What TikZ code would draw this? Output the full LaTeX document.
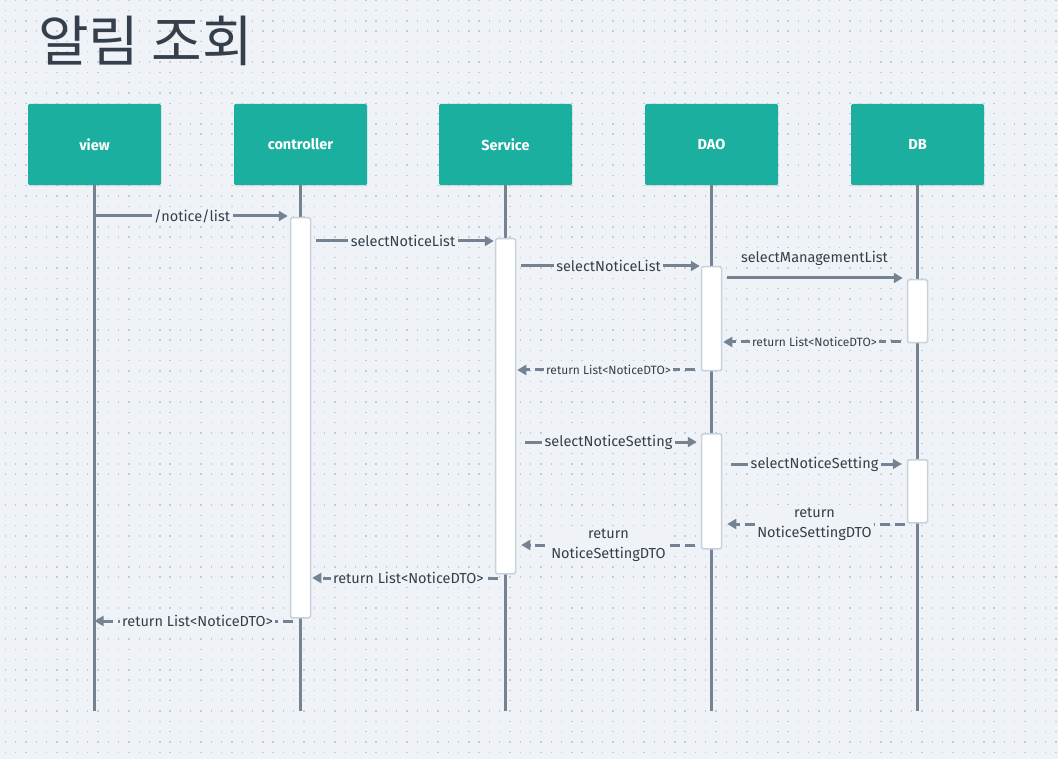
\documentclass[tikz,border=0pt]{standalone}
\usepackage{fontspec}
\setmainfont{Fira Sans}
\newfontfamily\krfont{Noto Sans CJK KR}
\usetikzlibrary{arrows.meta,shadows}
\definecolor{bgcol}{HTML}{EFF3F7}
\definecolor{dotcol}{HTML}{C3CBD5}
\definecolor{actorcol}{HTML}{1BAF9F}
\definecolor{linecol}{HTML}{748291}
\definecolor{txtcol}{HTML}{343F4B}
\definecolor{boxedge}{HTML}{C8D2DC}
\tikzset{
    actor/.style={fill=actorcol,minimum width=133pt,minimum height=81pt,rounded corners=1.5pt,
        text=white,font=\bfseries\fontsize{14.5}{16}\selectfont,
        drop shadow={shadow xshift=0pt,shadow yshift=-1.5pt,opacity=0.2}},
    lifeline/.style={linecol,line width=3pt},
    activation/.style={draw=boxedge,fill=white,line width=1.5pt,rounded corners=1.5pt,
        minimum width=20pt,inner sep=0pt,anchor=north},
    call/.style={linecol,line width=3pt,-{Triangle[length=9pt,width=10pt]}},
    reply/.style={call,dash pattern=on 10pt off 5pt},
    msg/.style={fill=bgcol,text=txtcol,font=\fontsize{14.5}{20}\selectfont,inner sep=2.5pt,align=center},
    smallmsg/.style={msg,font=\fontsize{12}{14}\selectfont}
}

\begin{document}
\begin{tikzpicture}[x=1pt,y=-1pt]
\fill[bgcol](0,0)rectangle(1058,759);
\useasboundingbox(0,0)rectangle(1058,759);
\foreach \i in {0,...,73}
    \draw[dotcol,line width=1.4pt,dash pattern=on 1.4pt off 8.9pt](4.6,{0.3+10.3*\i})--(1058,{0.3+10.3*\i});

\node[anchor=west,text=txtcol,font=\krfont\fontsize{55}{66}\selectfont,inner sep=0pt] (title) at (38,41) {알림 조회};

\foreach \n/\x/\t in {view/94.5/view,ctrl/300.5/controller,svc/505.5/Service,dao/711.5/DAO,db/917.5/DB}
    {\node[actor] (\n) at (\x,144.5) {\t};
     \coordinate (\n end) at (\x,711);
     \draw[lifeline](\n.south)--(\n end);
    }

\node[activation,minimum height=400pt] (act1) at (300.5,217) {};
\node[activation,minimum height=335pt] (act2) at (505.5,238) {};
\node[activation,minimum height=104pt] (act3) at (711.5,266) {};
\node[activation,minimum height=63pt] (act4) at (917.5,279) {};
\node[activation,minimum height=115pt] (act5) at (711.5,433) {};
\node[activation,minimum height=63pt] (act6) at (917.5,459) {};

\draw[call,shorten >=2pt](view.south|-0,216)--(act1.west|-0,216)node[msg,midway]{/notice/list};
\draw[call,shorten <=5pt,shorten >=1pt](act1.east|-0,241)--(act2.west|-0,241)node[msg,midway]{selectNoticeList};
\draw[call,shorten <=5pt,shorten >=1pt](act2.east|-0,266)--(act3.west|-0,266)node[msg,midway]{selectNoticeList};
\draw[call,shorten <=5pt,shorten >=4pt](act3.east|-0,278)--(act4.west|-0,278)node[msg,midway,above=8pt,fill=none]{selectManagementList};
\draw[reply,shorten <=6pt,shorten >=1pt](act4.west|-0,342)--(act3.east|-0,342)node[smallmsg,midway]{return List<NoticeDTO>};
\draw[reply,shorten <=6pt,shorten >=1pt](act3.west|-0,370)--(act2.east|-0,370)node[smallmsg,midway]{return List<NoticeDTO>};

\draw[call,shorten <=9pt,shorten >=4pt](act2.east|-0,442)--(act5.west|-0,442)node[msg,midway]{selectNoticeSetting};
\draw[call,shorten <=9pt,shorten >=5pt](act5.east|-0,464)--(act6.west|-0,464)node[msg,midway]{selectNoticeSetting};
\draw[reply,shorten <=2pt,shorten >=5pt](act6.west|-0,524)--(act5.east|-0,524)node[msg,midway]{return\\NoticeSettingDTO};
\draw[reply,shorten <=6pt,shorten >=5pt](act5.west|-0,545)--(act2.east|-0,545)node[msg,midway]{return\\NoticeSettingDTO};
\draw[reply,shorten <=8pt,shorten >=1pt](svc.south|-0,578)--(act1.east|-0,578)node[msg,midway]{return List<NoticeDTO>};
\draw[reply,shorten <=8pt](ctrl.south|-0,621)--(view.south|-0,621)node[msg,midway]{return List<NoticeDTO>};
\end{tikzpicture}
\end{document}
